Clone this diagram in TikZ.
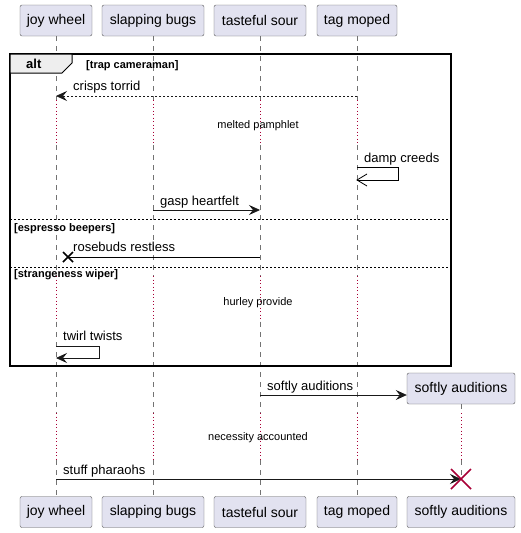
\documentclass[tikz,border=0pt]{standalone}
\usepackage{fontspec}
\setmainfont{Liberation Sans}
\usetikzlibrary{arrows.meta,shapes}
\definecolor{boxfill}{HTML}{E2E2F0}
\definecolor{tabfill}{HTML}{EEEEEE}
\definecolor{delayred}{HTML}{A80036}

\begin{document}
\begin{tikzpicture}[x=1pt,y=-1pt,
	participant/.style={draw=black!65,fill=boxfill,rounded corners=2pt,minimum height=31pt,inner sep=0pt,font=\fontsize{14}{16}\selectfont},
	lifeline/.style={draw=black!55,dash pattern=on 5pt off 5pt,line width=0.6pt},
	delayline/.style={draw=delayred,dash pattern=on 1pt off 2.5pt,line width=0.8pt},
	msg/.style={-{Stealth[length=11pt,width=10pt,inset=4pt]},line width=0.8pt,draw=black!90},
	lbl/.style={font=\fontsize{13}{15}\selectfont,anchor=base west,inner sep=0pt},
	delaytxt/.style={font=\fontsize{11}{13}\selectfont,anchor=base,inner sep=0pt},
	grouptxt/.style={font=\fontsize{11}{13}\selectfont\bfseries,anchor=base west,inner sep=0pt},
	separator/.style={dash pattern=on 2pt off 2pt,line width=0.6pt}]
	\useasboundingbox (0,0) rectangle (520,533);

	% participants, top and bottom
	\node[participant,minimum width=72pt] (jw) at (56,20.5) {joy wheel};
	\node[participant,minimum width=102pt] (sb) at (153,20.5) {slapping bugs};
	\node[participant,minimum width=92pt] (ts) at (260,20.5) {tasteful sour};
	\node[participant,minimum width=80pt] (tm) at (357,20.5) {tag moped};
	\node[participant,minimum width=72pt] (jw-b) at (56,512) {joy wheel};
	\node[participant,minimum width=102pt] (sb-b) at (153,512) {slapping bugs};
	\node[participant,minimum width=92pt] (ts-b) at (260,512) {tasteful sour};
	\node[participant,minimum width=80pt] (tm-b) at (357,512) {tag moped};
	\node[participant,minimum width=108pt] (sa) at (461,388.5) {softly auditions};
	\node[participant,minimum width=108pt] (sa-b) at (461,512) {softly auditions};

	% lifelines with delays
	\foreach \p in {jw,sb,ts,tm} {
		\draw[lifeline] (\p.south) -- (\p |- 0,100);
		\draw[delayline] (\p |- 0,100) -- (\p |- 0,145);
		\draw[lifeline] (\p |- 0,145) -- (\p |- 0,276);
		\draw[delayline] (\p |- 0,276) -- (\p |- 0,322);
		\draw[lifeline] (\p |- 0,322) -- (\p |- 0,413);
		\draw[delayline] (\p |- 0,413) -- (\p |- 0,460);
		\draw[lifeline] (\p |- 0,460) -- (\p-b.north);
	}
	\draw[lifeline] (sa.south) -- (sa |- 0,413);
	\draw[delayline] (sa |- 0,413) -- (sa |- 0,460);
	\draw[lifeline] (sa |- 0,460) -- (sa |- 0,479);

	% alt frame
	\draw[line width=1.5pt] (10,54) rectangle (451,366);
	\draw[fill=tabfill,line width=1pt] (10,54) -- (72,54) -- (72,63) -- (62,73) -- (10,73) -- cycle;
	\node[font=\fontsize{13}{15}\selectfont\bfseries,anchor=base west,inner sep=0pt] (alt) at (26,68.5) {alt};
	\node[grouptxt] (g1) at (86,68) {[trap cameraman]};
	\draw[separator] (10,219) -- (451,219);
	\node[grouptxt] (g2) at (14,231) {[espresso beepers]};
	\draw[separator] (10,267) -- (451,267);
	\node[grouptxt] (g3) at (14,277) {[strangeness wiper]};

	% messages
	\draw[msg,dash pattern=on 2pt off 2pt] (tm |- 0,96) -- (jw |- 0,96);
	\node[lbl] (m1) at (73,90) {crisps torrid};
	\node[delaytxt] (d1) at (258,128) {melted pamphlet};
	\draw[line width=0.8pt] (tm |- 0,167) -- (398,167) -- (398,180) -- (tm |- 0,180);
	\draw[line width=0.8pt] (367,174) -- (tm |- 0,180) -- (367,186);
	\node[lbl] (m2) at (364,162) {damp creeds};
	\draw[msg] (sb |- 0,210) -- (ts |- 0,210);
	\node[lbl] (m3) at (160,205) {gasp heartfelt};
	\draw[line width=0.8pt] (ts |- 0,257) -- (68,257);
	\draw[line width=1.5pt] (63,252) -- (73,262) (63,262) -- (73,252);
	\node[lbl] (m4) at (73,251) {rosebuds restless};
	\node[delaytxt] (d2) at (258,305) {hurley provide};
	\draw[msg] (jw |- 0,346) -- (99,346) -- (99,358) -- (jw |- 0,358);
	\node[lbl] (m5) at (63,340) {twirl twists};
	\draw[msg] (ts |- 0,395) -- (sa.west |- 0,395);
	\node[lbl] (m6) at (267,390) {softly auditions};
	\node[delaytxt] (d3) at (258,440) {necessity accounted};
	\draw[msg] (jw |- 0,479) -- (sa |- 0,479);
	\draw[delayred,line width=1.5pt] (451,469) -- (471,489) (451,489) -- (471,469);
	\node[lbl] (m7) at (63,474) {stuff pharaohs};
\end{tikzpicture}
\end{document}
